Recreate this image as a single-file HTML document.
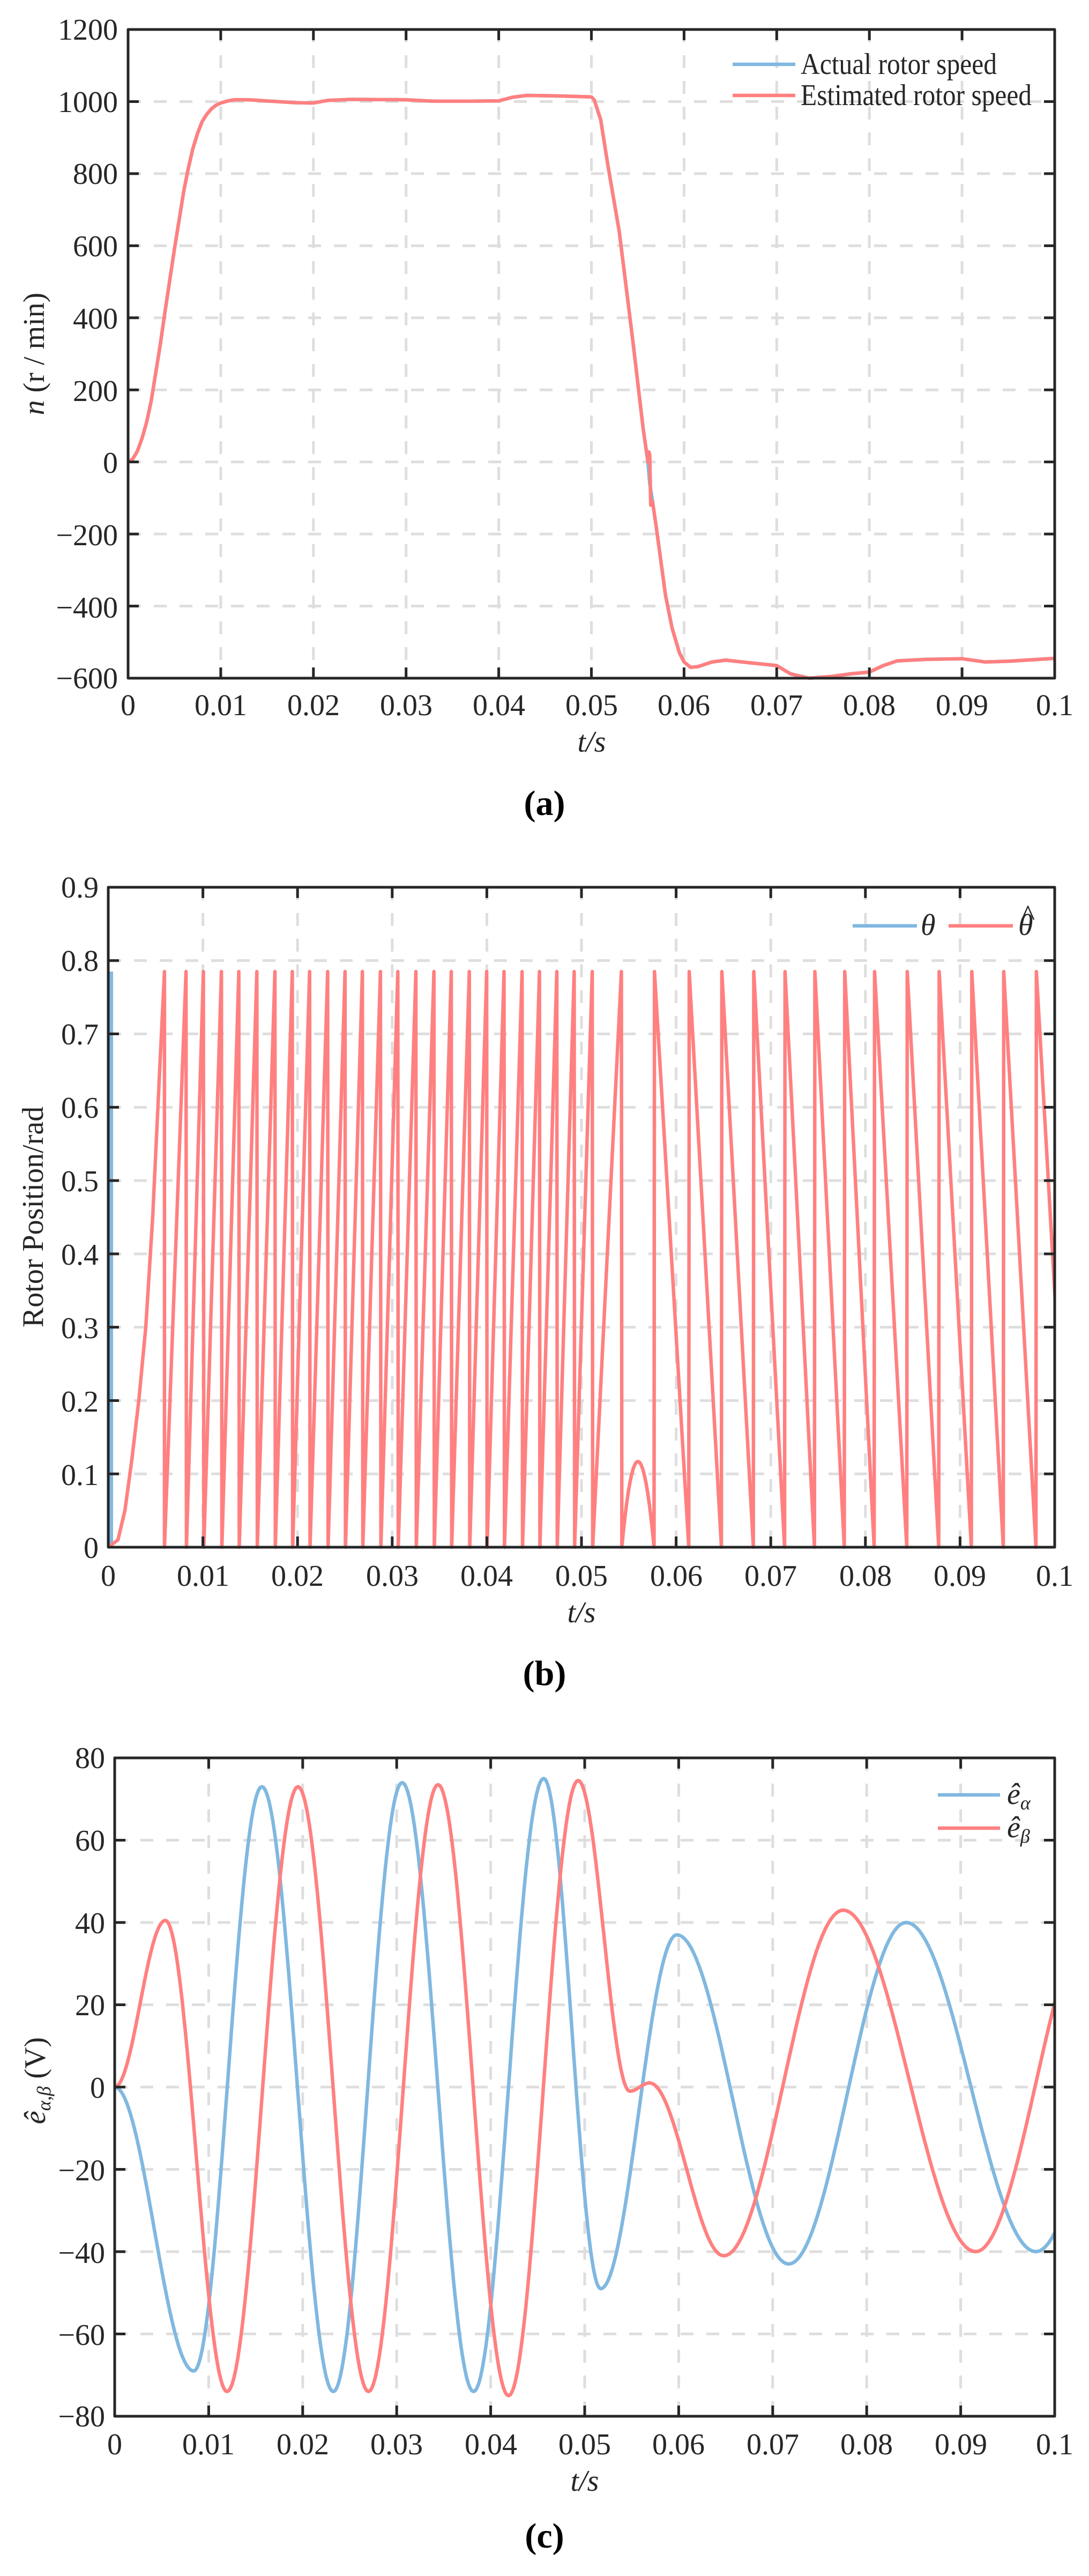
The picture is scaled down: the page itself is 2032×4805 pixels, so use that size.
<!DOCTYPE html>
<html><head><meta charset="utf-8">
<style>
html,body{margin:0;padding:0;background:#fff;}
svg{display:block;}
text{font-family:"Liberation Serif",serif;fill:#262626;}
.tk{font-size:56px;}
.it{font-style:italic;}
.lb{font-size:66px;font-weight:bold;fill:#000;}
</style></head><body>
<svg id="s" width="2032" height="4805" viewBox="0 0 2032 4805" xmlns="http://www.w3.org/2000/svg">
<g id="g"></g>
<!-- Panel A texts -->
<g class="tk" text-anchor="end">
<text x="220" y="74">1200</text>
<text x="220" y="209">1000</text>
<text x="220" y="343">800</text>
<text x="220" y="478">600</text>
<text x="220" y="613">400</text>
<text x="220" y="748">200</text>
<text x="220" y="882">0</text>
<text x="220" y="1017">−200</text>
<text x="220" y="1152">−400</text>
<text x="220" y="1284">−600</text>
</g>
<g class="tk" text-anchor="middle">
<text x="239" y="1334">0</text><text x="412" y="1334">0.01</text><text x="585" y="1334">0.02</text><text x="758" y="1334">0.03</text><text x="931" y="1334">0.04</text><text x="1104" y="1334">0.05</text><text x="1276" y="1334">0.06</text><text x="1449" y="1334">0.07</text><text x="1622" y="1334">0.08</text><text x="1795" y="1334">0.09</text><text x="1968" y="1334">0.1</text>
</g>
<text class="tk it" x="1104" y="1402" text-anchor="middle">t/s</text>
<text class="tk" transform="translate(82,660) rotate(-90)" text-anchor="middle"><tspan class="it">n</tspan> (r / min)</text>
<text class="tk" x="1494" y="138" textLength="366" lengthAdjust="spacingAndGlyphs">Actual rotor speed</text>
<text class="tk" x="1494" y="196" textLength="431" lengthAdjust="spacingAndGlyphs">Estimated rotor speed</text>
<text class="lb" x="1016" y="1520" text-anchor="middle">(a)</text>

<!-- Panel B texts -->
<g class="tk" text-anchor="end">
<text x="184" y="1674">0.9</text><text x="184" y="1811">0.8</text><text x="184" y="1948">0.7</text><text x="184" y="2085">0.6</text><text x="184" y="2222">0.5</text><text x="184" y="2359">0.4</text><text x="184" y="2496">0.3</text><text x="184" y="2633">0.2</text><text x="184" y="2770">0.1</text><text x="184" y="2906">0</text>
</g>
<g class="tk" text-anchor="middle">
<text x="202" y="2958">0</text><text x="379" y="2958">0.01</text><text x="555" y="2958">0.02</text><text x="732" y="2958">0.03</text><text x="908" y="2958">0.04</text><text x="1085" y="2958">0.05</text><text x="1262" y="2958">0.06</text><text x="1438" y="2958">0.07</text><text x="1615" y="2958">0.08</text><text x="1791" y="2958">0.09</text><text x="1968" y="2958">0.1</text>
</g>
<text class="tk it" x="1085" y="3026" text-anchor="middle">t/s</text>
<text class="tk" transform="translate(80,2270) rotate(-90)" text-anchor="middle">Rotor Position/rad</text>
<text class="tk it" x="1718" y="1744">θ</text>
<text class="tk it" x="1900" y="1744">θ</text>
<text class="tk" x="1918" y="1726" text-anchor="middle" font-size="38">^</text>
<text class="lb" x="1016" y="3143" text-anchor="middle">(b)</text>

<!-- Panel C texts -->
<g class="tk" text-anchor="end">
<text x="196" y="3298">80</text><text x="196" y="3452">60</text><text x="196" y="3606">40</text><text x="196" y="3759">20</text><text x="196" y="3913">0</text><text x="196" y="4067">−20</text><text x="196" y="4221">−40</text><text x="196" y="4374">−60</text><text x="196" y="4526">−80</text>
</g>
<g class="tk" text-anchor="middle">
<text x="214" y="4578">0</text><text x="389" y="4578">0.01</text><text x="565" y="4578">0.02</text><text x="740" y="4578">0.03</text><text x="916" y="4578">0.04</text><text x="1091" y="4578">0.05</text><text x="1266" y="4578">0.06</text><text x="1442" y="4578">0.07</text><text x="1617" y="4578">0.08</text><text x="1793" y="4578">0.09</text><text x="1968" y="4578">0.1</text>
</g>
<text class="tk it" x="1091" y="4646" text-anchor="middle">t/s</text>
<text class="tk" transform="translate(84,3881) rotate(-90)" text-anchor="middle"><tspan class="it">ê</tspan><tspan font-size="36" dy="10" class="it">α,β</tspan><tspan dy="-10"> (V)</tspan></text>
<text class="tk it" x="1879" y="3365">ê<tspan font-size="36" dy="10">α</tspan></text>
<text class="tk it" x="1879" y="3427">ê<tspan font-size="36" dy="10">β</tspan></text>
<text class="lb" x="1016" y="4752" text-anchor="middle">(c)</text>
</svg>
<script>
(function(){
var NS="http://www.w3.org/2000/svg",g=document.getElementById("g");
var BL="#80B8E0",RD="#FF8080",AX="#262626",GR="#DEDEDE",LW=6.5;
function P(d,st,w,extra){var p=document.createElementNS(NS,"path");p.setAttribute("d",d);p.setAttribute("fill","none");p.setAttribute("stroke",st);p.setAttribute("stroke-width",w);p.setAttribute("stroke-linejoin","round");p.setAttribute("stroke-linecap",extra&&extra.cap||"butt");if(extra&&extra.dash)p.setAttribute("stroke-dasharray",extra.dash);if(extra&&extra.clip)p.setAttribute("clip-path",extra.clip);g.appendChild(p);}
function panel(L,R,T,B,nx,ny){
 var d="";for(var i=1;i<nx;i++){var x=L+(R-L)*i/nx;d+="M"+x+" "+T+"V"+B;}
 for(var j=1;j<ny;j++){var y=T+(B-T)*j/ny;d+="M"+L+" "+y+"H"+R;}
 P(d,GR,5,{dash:"24 24"});
}
function frame(L,R,T,B,nx,ny){
 var d="";for(var i=1;i<nx;i++){var x=L+(R-L)*i/nx;d+="M"+x+" "+T+"v20M"+x+" "+B+"v-20";}
 for(var j=1;j<ny;j++){var y=T+(B-T)*j/ny;d+="M"+L+" "+y+"h20M"+R+" "+y+"h-20";}
 P(d,AX,5);
 P("M"+L+" "+T+"H"+R+"V"+B+"H"+L+"Z",AX,5);
}
function poly(pts,fx,fy){var d="";pts.forEach(function(p,i){d+=(i?"L":"M")+fx(p[0]).toFixed(1)+" "+fy(p[1]).toFixed(1);});return d;}
function clip(id,L,R,T,B){var c=document.createElementNS(NS,"clipPath");c.id=id;var r=document.createElementNS(NS,"rect");r.setAttribute("x",L);r.setAttribute("y",T-10);r.setAttribute("width",R-L);r.setAttribute("height",B-T+20);c.appendChild(r);g.appendChild(c);}

// ---------- Panel A ----------
var aL=239,aR=1968,aT=55,aB=1265;
var ax=function(t){return aL+(aR-aL)*t/0.1;}, ay=function(v){return aT+(aB-aT)*(1200-v)/1800;};
panel(aL,aR,aT,aB,10,9);
var A=[[0,0],[0.0005,8],[0.001,30],[0.0015,65],[0.002,110],[0.0025,170],[0.003,250],[0.0035,330],[0.004,420],[0.0045,505],[0.005,590],[0.0055,670],[0.006,750],[0.0065,815],[0.007,870],[0.0075,912],[0.008,945],[0.0085,965],[0.009,980],[0.0095,990],[0.010,996],[0.0108,1002],[0.0115,1005],[0.013,1005],[0.016,1000],[0.018,997],[0.02,996],[0.0215,1003],[0.024,1006],[0.03,1005],[0.033,1001],[0.037,1001],[0.04,1002],[0.0415,1012],[0.043,1017],[0.046,1016],[0.05,1013],[0.0503,1005],[0.051,950],[0.0518,820],[0.053,640],[0.0545,330],[0.0556,90],[0.0561,0]];
var Ar=A.concat([[0.0562,28],[0.0563,20],[0.0564,-120],[0.0566,-110]]);
var tail=[[0.057,-180],[0.058,-370],[0.0587,-460],[0.0595,-530],[0.060,-555],[0.0607,-570],[0.0615,-568],[0.063,-555],[0.0645,-550],[0.067,-557],[0.07,-565],[0.0715,-588],[0.0735,-600],[0.076,-595],[0.078,-588],[0.08,-583],[0.0815,-565],[0.083,-552],[0.086,-548],[0.09,-546],[0.0925,-555],[0.095,-553],[0.1,-545]];
P(poly(A.concat([[0.0563,-60],[0.0566,-110]]).concat(tail),ax,ay),BL,LW);
P(poly(Ar.concat(tail),ax,ay),RD,LW);
frame(aL,aR,aT,aB,10,9);
P("M1367 120H1484",BL,LW);P("M1367 178H1484",RD,LW);

// ---------- Panel B ----------
var bL=202,bR=1968,bT=1655,bB=2886;
var bx=function(t){return bL+(bR-bL)*t/0.1;}, by=function(v){return bT+(bB-bT)*(0.9-v)/0.9;};
var zt=function(z){return (z-156)/1363*0.1;};
panel(bL,bR,bT,bB,10,9);
clip("cb",bL,bR,bT,bB);
var M=0.785,pts=[];
[[156,0],[170,0.01],[180,0.05],[190,0.12],[200,0.2],[210,0.3],[220,0.45],[230,0.65],[237,M],[237,0]].forEach(function(p){pts.push([zt(p[0]),p[1]]);});
var rise=[268,293,319,344,370,396,421,446,472,497,522,548,573,599,625,650,676,701,726,752,777,802,827,853,895];
rise.forEach(function(z){pts.push([zt(z),M]);pts.push([zt(z+0.6),0]);});
for(var k=0;k<=20;k++){var z=895.6+(942-895.6)*k/20;var s=k/20;pts.push([zt(z),0.117*4*s*(1-s)]);}
var fall=[942,992,1039,1085,1130,1173,1216,1259,1306,1352,1399,1445,1492,1540];
for(var i=0;i<fall.length-1;i++){pts.push([zt(fall[i]),0]);pts.push([zt(fall[i]+0.6),M]);pts.push([zt(fall[i+1]),0]);}
P("M"+(bL+4)+" "+by(0)+"V"+by(M),BL,10);
P(poly(pts,bx,by),RD,LW,{clip:"url(#cb)"});
frame(bL,bR,bT,bB,10,9);
P("M1591 1727H1711",BL,LW);P("M1770 1727H1890",RD,LW);

// ---------- Panel C ----------
var cL=214,cR=1968,cT=3279,cB=4507;
var cx=function(t){return cL+(cR-cL)*t/0.1;}, cy=function(v){return cT+(cB-cT)*(80-v)/160;};
panel(cL,cR,cT,cB,10,8);
clip("cc",cL,cR,cT,cB);
function wave(ex){var out=[];for(var i=0;i<ex.length-1;i++){var a=ex[i],b=ex[i+1];var n=40;for(var k=(i?1:0);k<=n;k++){var s=k/n;out.push([a[0]+(b[0]-a[0])*s,a[1]+(b[1]-a[1])*(1-Math.cos(Math.PI*s))/2]);}}return out;}
var EA=[[0,0],[0.00842,-69],[0.01566,73],[0.02326,-74],[0.03058,74],[0.03818,-74],[0.04564,75],[0.0517,-49],[0.0598,37],[0.0717,-43],[0.0842,40],[0.098,-40],[0.111,40]];
var EB=[[0,0],[0.0054,40.5],[0.01196,-74],[0.0195,73],[0.027,-74],[0.0344,73.5],[0.0419,-75],[0.0493,74.5],[0.0548,-1],[0.0569,1],[0.0648,-41],[0.0775,43],[0.0916,-40],[0.1045,43]];
P(poly(wave(EA),cx,cy),BL,LW,{clip:"url(#cc)"});
P(poly(wave(EB),cx,cy),RD,LW,{clip:"url(#cc)"});
frame(cL,cR,cT,cB,10,8);
P("M1750 3348H1866",BL,LW);P("M1750 3410H1866",RD,LW);
})();
</script>
</body></html>
